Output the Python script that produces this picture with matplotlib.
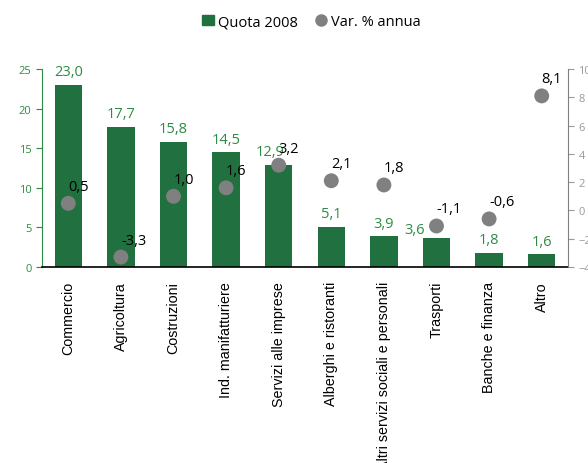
import matplotlib.pyplot as plt
import numpy as np

categories = ["Commercio", "Agricoltura", "Costruzioni", "Ind. manifatturiere",
              "Servizi alle imprese", "Alberghi e ristoranti",
              "Altri servizi sociali e personali", "Trasporti",
              "Banche e finanza", "Altro"]
quota = [23.0, 17.7, 15.8, 14.5, 12.9, 5.1, 3.9, 3.6, 1.8, 1.6]
var_annua = [0.5, -3.3, 1.0, 1.6, 3.2, 2.1, 1.8, -1.1, -0.6, 8.1]

GREEN = "#21703f"
LABEL_GREEN = "#2e8b45"
GREY = "#808080"
NUM_FONT = "Open Sans"

# label nudges (in pixels) for the bar values that sit aside in the original
bar_label_shift = {4: (-9, 0), 7: (-22, -4)}


def fmt(v):
    return f"{v:.1f}".replace(".", ",")


fig = plt.figure(figsize=(5.88, 4.64), dpi=100)
ax = fig.add_axes([0.0714, 0.4224, 0.8946, 0.4267])
x = np.arange(len(categories))

ax.bar(x, quota, width=0.52, color=GREEN, zorder=2)
for i, (xi, q) in enumerate(zip(x, quota)):
    dx, dy = bar_label_shift.get(i, (0, 0))
    ax.annotate(fmt(q), (xi, q), xytext=(dx * 0.72, (13 + dy) * 0.72),
                textcoords="offset points", ha="center", va="center",
                color=LABEL_GREEN, fontsize=10.5, family=NUM_FONT)

ax.set_xlim(-0.5, len(categories) - 0.5)
ax.set_ylim(0, 25)
ax.set_yticks(range(0, 26, 5))
ax.tick_params(axis="y", colors=LABEL_GREEN, labelsize=8, length=4, direction="out")
for t in ax.get_yticklabels():
    t.set_family(NUM_FONT)
ax.tick_params(axis="x", length=0, labelsize=10.3, pad=10)
ax.set_xticks(x)
ax.set_xticklabels(categories, rotation=90, family="Liberation Sans")
ax.spines["top"].set_visible(False)
ax.spines["right"].set_visible(False)
ax.spines["left"].set_color(LABEL_GREEN)
ax.spines["bottom"].set_color("black")
ax.spines["bottom"].set_linewidth(1.2)

ax2 = ax.twinx()
ax2.scatter(x, var_annua, s=115, color=GREY, zorder=3, edgecolors="none")
for xi, v in zip(x, var_annua):
    ax2.annotate(fmt(v), (xi, v), xytext=(0, 17 * 0.72), textcoords="offset points",
                 ha="left", va="center", color="black", fontsize=10.5, family=NUM_FONT)
ax2.set_ylim(-4, 10)
ax2.set_yticks(range(-4, 11, 2))
ax2.tick_params(axis="y", colors="#999999", labelsize=8, length=4)
for t in ax2.get_yticklabels():
    t.set_family(NUM_FONT)
for s in ["top", "left", "bottom"]:
    ax2.spines[s].set_visible(False)
ax2.spines["right"].set_color(GREY)

h1 = plt.Rectangle((0, 0), 1, 1, color=GREEN)
h2 = plt.Line2D([], [], marker="o", linestyle="none", color=GREY, markersize=8)
fig.legend([h1, h2], ["Quota 2008", "Var. % annua"], loc="upper center",
           bbox_to_anchor=(0.53, 0.995), ncol=2, frameon=False,
           prop={"family": NUM_FONT, "size": 10.5},
           handlelength=0.8, handletextpad=0.3, columnspacing=1.2)

fig.savefig("out.png", dpi=100)
